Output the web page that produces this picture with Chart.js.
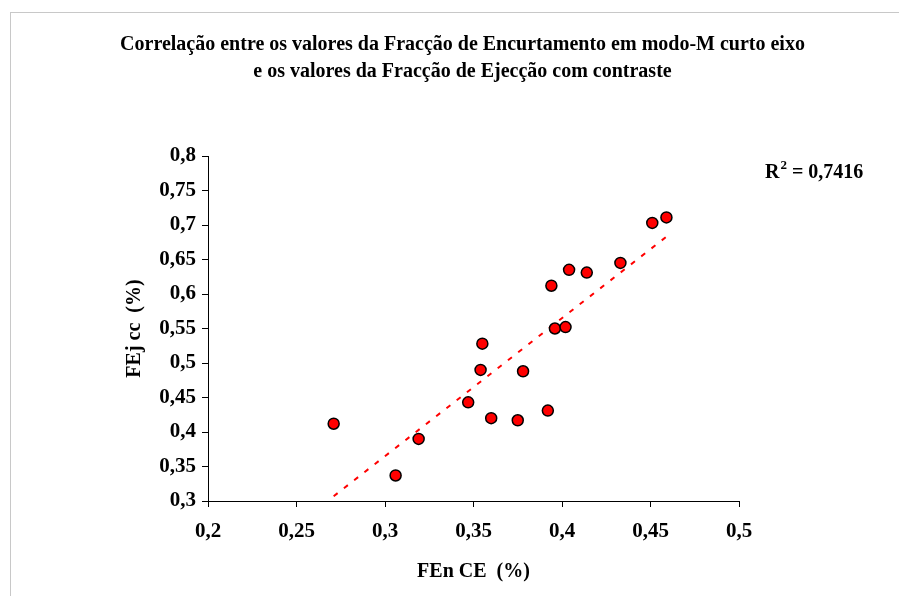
<!DOCTYPE html>
<html>
<head>
<meta charset="utf-8">
<script src="https://cdn.jsdelivr.net/npm/chart.js@4.4.1/dist/chart.umd.min.js"></script>
<style>
  html, body { margin: 0; padding: 0; background: #fff; overflow: hidden; }
  #wrap { position: relative; width: 925px; height: 596px; }
</style>
</head>
<body>
<div id="wrap"><canvas id="corrChart"></canvas></div>
<script>
// FEn CE (x) and FEj cc (y)
const fenCE = [0.271, 0.306, 0.319, 0.347, 0.354, 0.355, 0.360, 0.375, 0.378, 0.392, 0.394, 0.396, 0.402, 0.404, 0.414, 0.433, 0.451, 0.459];
const fejCC = [0.412, 0.337, 0.390, 0.443, 0.490, 0.528, 0.420, 0.417, 0.488, 0.431, 0.612, 0.550, 0.552, 0.635, 0.631, 0.645, 0.703, 0.711];

// linear trend line end points
const trendX = [0.271, 0.459];
const trendY = [0.307, 0.683];

const xTicks = [0.2, 0.25, 0.3, 0.35, 0.4, 0.45, 0.5];
const yTicks = [0.3, 0.35, 0.4, 0.45, 0.5, 0.55, 0.6, 0.65, 0.7, 0.75, 0.8];
const rSquared = "0,7416";

const serif = "'Liberation Serif', 'Times New Roman', serif";
const tickFont = { family: serif, size: 21, weight: "bold" };
const axisFont = { family: serif, size: 20, weight: "bold" };

function fmt(v) {
  return String(Number(v.toFixed(2))).replace(".", ",");
}

const framePlugin = {
  id: "frame",
  beforeDraw(chart) {
    const ctx = chart.ctx;
    ctx.save();
    ctx.strokeStyle = "#c8c8c8";
    ctx.lineWidth = 1;
    ctx.strokeRect(10.5, 12.5, 2000, 2000);
    ctx.restore();
  },
  afterDraw(chart) {
    // R² label
    const ctx = chart.ctx;
    ctx.save();
    ctx.fillStyle = "#000";
    ctx.textBaseline = "alphabetic";
    ctx.font = "bold 20px " + serif;
    let x = 765;
    const base = 178;
    ctx.fillText("R", x, base);
    x += ctx.measureText("R").width + 1;
    ctx.font = "bold 13px " + serif;
    ctx.fillText("2", x, base - 9);
    x += ctx.measureText("2").width;
    ctx.font = "bold 20px " + serif;
    ctx.fillText(" = " + rSquared, x, base);
    ctx.restore();
  }
};

new Chart(document.getElementById("corrChart"), {
  data: {
    datasets: [
      {
        type: "scatter",
        data: fenCE.map((x, i) => ({ x: x, y: fejCC[i] })),
        backgroundColor: "#ff0000",
        borderColor: "#000000",
        borderWidth: 1.5,
        pointRadius: 5.5
      },
      {
        type: "line",
        data: trendX.map((x, i) => ({ x: x, y: trendY[i] })),
        borderColor: "#ff0000",
        borderWidth: 2,
        borderDash: [5, 8],
        pointRadius: 0,
        fill: false
      }
    ]
  },
  options: {
    responsive: true,
    maintainAspectRatio: false,
    animation: false,
    events: [],
    layout: { padding: 0 },
    plugins: {
      legend: { display: false },
      tooltip: { enabled: false },
      title: {
        display: true,
        text: [
          "Correlação entre os valores da Fracção de Encurtamento em modo-M curto eixo",
          "e os valores da Fracção de Ejecção com contraste"
        ],
        color: "#000",
        font: { family: serif, size: 20, weight: "bold", lineHeight: 1.35 },
        padding: { top: 31, bottom: 71 }
      }
    },
    scales: {
      x: {
        type: "linear",
        min: 0.2,
        max: 0.5,
        afterBuildTicks: s => { s.ticks = xTicks.map(v => ({ value: v })); },
        afterFit: s => { s.height = 95; },
        grid: { drawOnChartArea: false, tickLength: 6, color: "#000" },
        border: { color: "#000", width: 1 },
        ticks: { color: "#000", padding: 12, maxRotation: 0, font: tickFont, callback: v => fmt(v) },
        title: { display: true, text: "FEn CE  (%)", color: "#000", font: axisFont, padding: { top: 0, bottom: 12 } }
      },
      y: {
        type: "linear",
        min: 0.3,
        max: 0.8,
        afterBuildTicks: s => { s.ticks = yTicks.map(v => ({ value: v })); },
        afterFit: s => { s.width = 208; },
        grid: { drawOnChartArea: false, tickLength: 6, color: "#000" },
        border: { color: "#000", width: 1 },
        ticks: { color: "#000", padding: 6, font: tickFont, callback: v => fmt(v) },
        title: { display: true, text: "FEj cc  (%)", color: "#000", font: axisFont, padding: { top: 123, bottom: 0 } }
      },
      yRight: {
        type: "linear",
        position: "right",
        display: true,
        afterFit: s => { s.width = 186; },
        grid: { display: false },
        border: { display: false },
        ticks: { display: false }
      }
    }
  },
  plugins: [framePlugin]
});
</script>
</body>
</html>
